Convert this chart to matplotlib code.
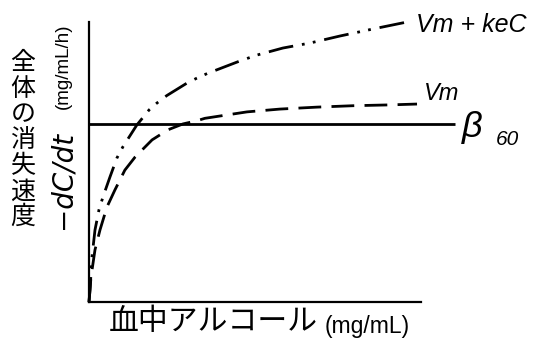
import numpy as np
import matplotlib
matplotlib.use('Agg')
import matplotlib.pyplot as plt

plt.rcParams['font.family'] = ['Noto Sans CJK JP', 'DejaVu Sans']

# blood alcohol (arbitrary units) vs elimination rate
C_VM = [0, 0.06, 0.18, 0.33, 0.54, 0.78, 1.08, 1.39, 1.90, 2.38, 2.83,
        3.24, 3.49, 4.15, 4.76, 5.75, 6.87, 7.95, 9.07, 9.88]
RATE_VM = [0, 0.89, 1.86, 2.57, 3.39, 4.0, 4.71, 5.18, 5.79, 6.15, 6.36,
           6.47, 6.56, 6.68, 6.79, 6.89, 6.96, 7.01, 7.04, 7.07]

C_VMKE = [0, 0.03, 0.09, 0.18, 0.30, 0.42, 0.63, 0.84, 1.02, 1.44, 1.81,
          2.04, 2.34, 2.94, 3.24, 3.58, 3.89, 4.55, 5.06, 5.84, 6.66, 7.56,
          8.55, 9.58]
RATE_VMKE = [0, 0.43, 1.61, 2.57, 3.29, 3.75, 4.46, 5.14, 5.54, 6.32, 6.86,
             7.10, 7.37, 7.81, 7.99, 8.17, 8.31, 8.61, 8.82, 9.07, 9.25, 9.5,
             9.75, 10.0]

BETA60 = 6.36
BETA_X = [0, 11.02]

W, H = 543, 341
fig = plt.figure(figsize=(W / 100, H / 100), dpi=100)
ax = fig.add_axes([89 / W, (H - 302) / H, 332 / W, 280 / H])
ax.set_xlim(0, 10)
ax.set_ylim(0, 10)
for s in ['top', 'right']:
    ax.spines[s].set_visible(False)
for s in ['left', 'bottom']:
    ax.spines[s].set_linewidth(1.6)
ax.set_xticks([])
ax.set_yticks([])

ax.plot(BETA_X, [BETA60, BETA60], color='black', lw=2, clip_on=False,
        solid_capstyle='butt')
ax.plot(C_VM, RATE_VM, color='black', lw=2, linestyle=(0, (8.2, 3.7)),
        clip_on=False)
ax.plot(C_VMKE, RATE_VMKE, color='black', lw=2,
        linestyle=(0, (9, 3.2, 1, 3, 1, 3.2)), clip_on=False)

def px(x, y):
    return x / W, 1 - y / H

fig.text(*px(416, 25), 'Vm + keC', family='Liberation Sans', style='italic',
         fontsize=18, ha='left', va='center')
fig.text(*px(424, 93), 'Vm', family='Liberation Sans', style='italic',
         fontsize=17, ha='left', va='center')
fig.text(*px(462, 128), '\u03b2', family='Liberation Sans', style='italic',
         fontsize=26, ha='left', va='center')
fig.text(*px(496, 139), '60', family='Liberation Sans', style='italic',
         fontsize=15, ha='left', va='center')

# vertical y label, one character per line
for i, ch in enumerate('全体の消失速度'):
    fig.text(*px(23, 63 + i * 25.7), ch, fontsize=18, ha='center',
             va='center')
fig.text(*px(62, 180), '\u2212dC/dt', family='DejaVu Sans', style='italic',
         fontsize=20, rotation=90, ha='center', va='center')
fig.text(*px(63, 66), '(mg/mL/h)', family='Liberation Sans', fontsize=13.5,
         rotation=90, ha='center', va='center')

fig.text(*px(109, 322), '血中アルコール', fontsize=21.5, ha='left',
         va='center')
fig.text(*px(325, 326), '(mg/mL)', family='Liberation Sans', fontsize=16.5,
         ha='left', va='center')

fig.savefig('out.png', dpi=100)
